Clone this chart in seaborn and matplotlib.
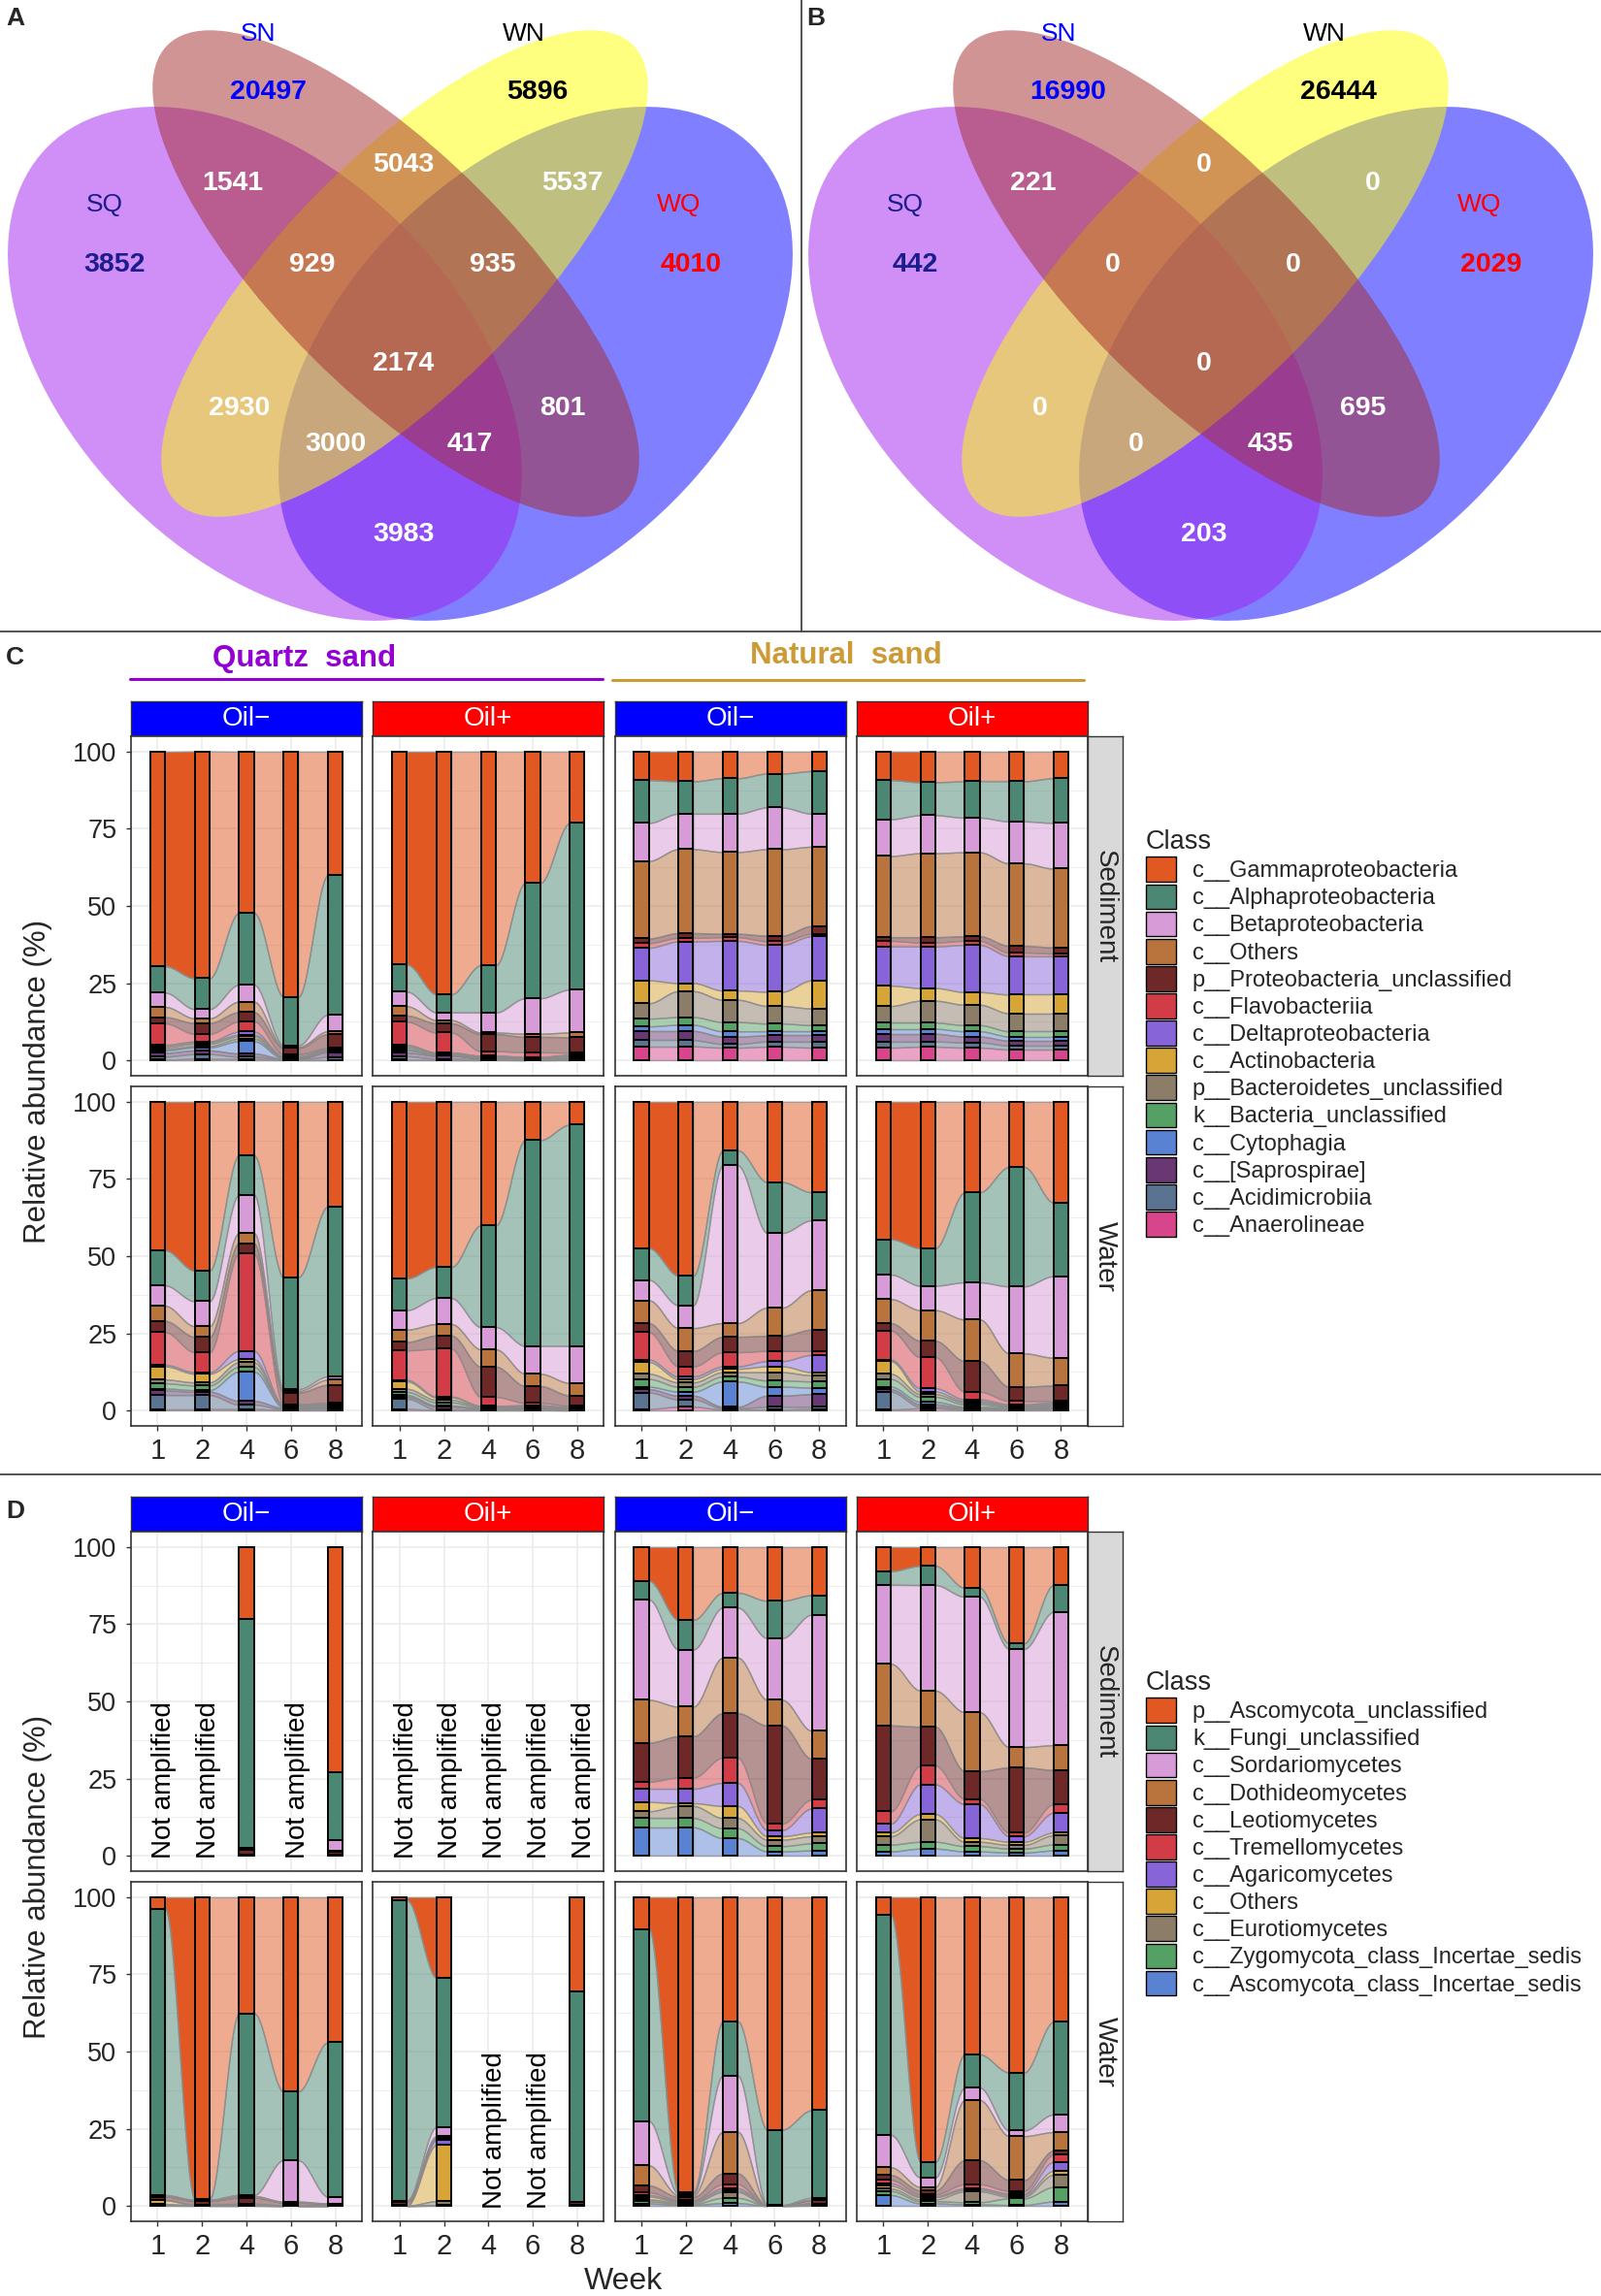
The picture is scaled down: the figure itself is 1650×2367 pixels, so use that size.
import numpy as np
import matplotlib
matplotlib.use("Agg")
import matplotlib.pyplot as plt
from matplotlib.patches import Ellipse, Patch
from matplotlib.lines import Line2D
from matplotlib.colors import to_rgba
import seaborn as sns

sns.set_theme(style="white")
plt.rcParams['font.family'] = ['Liberation Sans', 'DejaVu Sans']

W, H = 1650, 2367

# ---------------- Venn data ----------------
venn_regions = ["SQ", "SN", "WN", "WQ", "SQ&SN", "SN&WN", "WN&WQ", "SQ&SN&WN",
                "SN&WN&WQ", "SQ&SN&WN&WQ", "SQ&WN", "SN&WQ", "SQ&WN&WQ", "SQ&SN&WQ", "SQ&WQ"]
venn_A = [3852, 20497, 5896, 4010, 1541, 5043, 5537, 929, 935, 2174, 2930, 801, 3000, 417, 3983]
venn_B = [442, 16990, 26444, 2029, 221, 0, 0, 0, 0, 0, 0, 695, 0, 435, 203]
set_names = ["SQ", "SN", "WN", "WQ"]
set_fill = {"SQ": "#A020F0", "SN": "#A52A2A", "WN": "#FFFF00", "WQ": "#0000FF"}
set_textcol = {"SQ": "#1C1C8C", "SN": "#0000FF", "WN": "#000000", "WQ": "#FF0000"}

# ---------------- Panel C data (bacteria) ----------------
weeks = ["1", "2", "4", "6", "8"]
bac_classes = ["c__Gammaproteobacteria", "c__Alphaproteobacteria", "c__Betaproteobacteria",
               "c__Others", "p__Proteobacteria_unclassified", "c__Flavobacteriia",
               "c__Deltaproteobacteria", "c__Actinobacteria", "p__Bacteroidetes_unclassified",
               "k__Bacteria_unclassified", "c__Cytophagia", "c__[Saprospirae]",
               "c__Acidimicrobiia", "c__Anaerolineae"]
bac_colors = ["#E15823", "#4B8773", "#D79BD7", "#B9733C", "#6E2828", "#D23C46", "#8764D7",
              "#D7A537", "#8C7D69", "#55A064", "#5A82D2", "#693773", "#5A7391", "#D7468C"]

bac_quartz_oilneg_sediment = [
    [69.5, 8.6, 4.6, 3.3, 2.0, 7.0, 0.3, 0.5, 0.6, 0.4, 0.8, 1.2, 1.0, 0.2],
    [73.5, 10.0, 3.0, 1.5, 3.5, 2.5, 0.3, 0.4, 0.8, 0.4, 1.0, 1.2, 1.5, 0.5],
    [52.2, 23.3, 5.5, 3.4, 3.0, 3.3, 1.0, 0.5, 0.8, 0.8, 4.0, 1.0, 0.7, 0.5],
    [79.4, 15.8, 0.5, 0.3, 2.0, 0.7, 0.1, 0.1, 0.3, 0.2, 0.1, 0.2, 0.2, 0.1],
    [40.0, 45.2, 5.4, 0.9, 4.5, 0.3, 0.1, 0.3, 0.3, 0.2, 0.2, 1.5, 1.0, 0.1]]
bac_quartz_oilpos_sediment = [
    [69.0, 8.8, 4.7, 3.0, 2.0, 7.5, 0.3, 0.5, 0.6, 0.4, 0.7, 1.2, 1.1, 0.2],
    [78.6, 5.9, 2.5, 1.0, 3.0, 6.5, 0.1, 0.2, 0.3, 0.2, 0.2, 1.0, 0.4, 0.1],
    [69.2, 15.3, 6.5, 0.5, 5.5, 1.5, 0.1, 0.2, 0.3, 0.2, 0.1, 0.4, 0.1, 0.1],
    [42.5, 37.4, 11.5, 1.0, 5.0, 1.5, 0.1, 0.2, 0.2, 0.2, 0.1, 0.2, 0.05, 0.05],
    [23.1, 54.0, 13.9, 1.5, 5.0, 0.7, 0.1, 0.3, 0.4, 0.3, 0.1, 0.4, 0.1, 0.1]]
bac_natural_oilneg_sediment = [
    [9.2, 13.9, 12.3, 25.1, 1.5, 1.5, 10.6, 7.4, 5.0, 2.5, 1.5, 3.0, 2.0, 4.5],
    [9.6, 10.5, 11.5, 27.2, 1.5, 1.2, 13.5, 2.6, 8.4, 2.5, 2.0, 3.0, 2.0, 4.5],
    [8.6, 11.5, 12.4, 26.5, 1.1, 1.2, 16.1, 3.0, 7.2, 3.0, 1.7, 2.4, 1.2, 4.1],
    [7.1, 11.0, 13.5, 28.0, 1.8, 1.2, 15.2, 4.6, 5.7, 2.5, 1.3, 2.0, 1.7, 4.4],
    [6.3, 13.8, 10.7, 25.7, 2.5, 0.8, 14.3, 9.1, 5.4, 2.0, 1.3, 2.0, 2.0, 4.1]]
bac_natural_oilpos_sediment = [
    [9.2, 12.7, 11.9, 26.3, 1.2, 1.8, 12.7, 6.6, 5.4, 2.0, 1.6, 2.5, 2.0, 4.1],
    [9.9, 10.7, 12.3, 27.2, 1.7, 1.3, 13.5, 4.1, 7.1, 2.0, 1.6, 2.5, 1.7, 4.4],
    [9.6, 11.8, 11.2, 27.2, 1.5, 1.3, 15.3, 4.1, 6.6, 2.0, 1.7, 1.9, 1.7, 4.1],
    [9.6, 13.0, 13.6, 26.7, 2.2, 1.1, 12.5, 6.1, 5.8, 1.7, 1.3, 1.6, 1.3, 3.5],
    [8.6, 14.5, 14.8, 25.5, 2.0, 0.8, 12.5, 6.1, 5.8, 1.7, 1.3, 1.6, 1.3, 3.5]]
bac_quartz_oilneg_water = [
    [48.1, 11.4, 6.6, 4.9, 3.6, 10.6, 0.5, 4.3, 1.2, 1.7, 0.6, 1.5, 4.5, 0.5],
    [54.7, 9.9, 8.1, 3.4, 5.0, 6.5, 0.5, 2.8, 1.0, 1.5, 0.5, 1.1, 4.5, 0.5],
    [17.3, 12.8, 12.4, 3.3, 3.3, 31.6, 2.7, 1.0, 1.5, 1.5, 9.5, 1.2, 1.4, 0.5],
    [56.8, 36.3, 0.6, 0.5, 3.8, 0.3, 0.1, 0.1, 0.3, 0.2, 0.2, 0.4, 0.3, 0.1],
    [33.9, 55.1, 1.0, 1.7, 5.8, 0.4, 0.1, 0.2, 0.3, 0.3, 0.2, 0.5, 0.4, 0.1]]
bac_quartz_oilpos_water = [
    [57.2, 10.3, 6.3, 4.0, 2.7, 9.6, 0.5, 2.4, 1.0, 1.0, 0.5, 0.7, 3.3, 0.5],
    [53.5, 10.1, 8.4, 3.7, 4.3, 15.5, 0.3, 0.8, 0.8, 1.0, 0.3, 1.0, 0.2, 0.1],
    [40.0, 33.0, 7.2, 5.6, 9.8, 2.9, 0.1, 0.2, 0.3, 0.3, 0.1, 0.3, 0.1, 0.1],
    [12.4, 66.7, 9.0, 4.0, 5.4, 0.8, 0.1, 0.2, 0.3, 0.2, 0.1, 0.5, 0.2, 0.1],
    [7.4, 71.7, 12.0, 4.0, 3.4, 0.5, 0.1, 0.1, 0.2, 0.2, 0.1, 0.2, 0.05, 0.05]]
bac_natural_oilneg_water = [
    [47.4, 10.3, 6.6, 7.4, 2.9, 8.9, 0.8, 3.8, 1.7, 2.5, 0.8, 1.1, 5.3, 0.5],
    [56.3, 9.6, 7.4, 7.4, 5.0, 3.3, 0.8, 1.1, 1.4, 1.6, 1.3, 1.2, 2.4, 1.2],
    [15.7, 4.9, 51.1, 4.4, 5.0, 4.6, 0.8, 1.1, 1.4, 1.6, 8.2, 0.5, 0.4, 0.3],
    [26.0, 16.5, 24.2, 9.1, 4.9, 3.3, 1.7, 1.9, 2.7, 2.0, 2.9, 3.6, 0.9, 0.3],
    [29.3, 9.1, 22.6, 12.8, 6.9, 1.3, 5.6, 1.0, 2.0, 2.0, 2.1, 4.1, 0.7, 0.5]]
bac_natural_oilpos_water = [
    [44.5, 11.5, 7.9, 7.8, 2.4, 9.4, 0.5, 4.1, 1.7, 2.5, 0.8, 0.8, 5.8, 0.3],
    [47.4, 12.2, 7.9, 9.9, 5.3, 10.1, 1.1, 0.8, 0.9, 1.6, 0.8, 0.8, 0.5, 0.7],
    [29.3, 29.2, 12.0, 13.5, 9.9, 2.5, 0.6, 0.4, 0.6, 0.8, 0.4, 0.3, 0.3, 0.2],
    [21.1, 38.7, 21.7, 10.8, 4.6, 1.1, 0.3, 0.2, 0.3, 0.3, 0.3, 0.3, 0.2, 0.1],
    [32.6, 23.9, 26.4, 9.0, 5.0, 0.5, 0.3, 0.3, 0.3, 0.3, 0.3, 0.5, 0.4, 0.2]]

# ---------------- Panel D data (fungi) ; None = not amplified ----------------
fun_classes = ["p__Ascomycota_unclassified", "k__Fungi_unclassified", "c__Sordariomycetes",
               "c__Dothideomycetes", "c__Leotiomycetes", "c__Tremellomycetes",
               "c__Agaricomycetes", "c__Others", "c__Eurotiomycetes",
               "c__Zygomycota_class_Incertae_sedis", "c__Ascomycota_class_Incertae_sedis"]
fun_colors = bac_colors[:11]

fun_quartz_oilneg_sediment = [
    None, None,
    [23.3, 74.1, 0.3, 0.5, 1.5, 0.1, 0.0, 0.1, 0.1, 0.0, 0.0],
    None,
    [73.1, 21.9, 3.5, 0.2, 1.1, 0.0, 0.0, 0.1, 0.1, 0.0, 0.0]]
fun_quartz_oilpos_sediment = [None, None, None, None, None]
fun_natural_oilneg_sediment = [
    [10.9, 6.1, 32.5, 13.9, 12.6, 2.3, 4.3, 3.0, 2.2, 3.0, 9.2],
    [23.6, 9.6, 18.5, 9.6, 13.4, 3.6, 4.7, 0.9, 3.9, 3.0, 9.2],
    [14.8, 4.8, 16.2, 18.0, 14.4, 8.2, 7.5, 3.9, 3.3, 3.2, 5.7],
    [17.4, 12.1, 20.0, 8.3, 31.8, 2.1, 2.0, 1.1, 2.1, 1.7, 1.4],
    [15.6, 6.3, 37.6, 9.1, 13.2, 2.9, 7.8, 1.2, 2.3, 2.3, 1.7]]
fun_natural_oilpos_sediment = [
    [7.8, 4.4, 25.6, 20.0, 27.8, 4.0, 2.9, 1.2, 2.7, 2.2, 1.4],
    [6.1, 6.2, 34.2, 11.7, 12.6, 6.1, 9.6, 1.7, 7.3, 2.2, 2.3],
    [13.2, 2.9, 37.4, 19.1, 9.0, 1.7, 11.0, 1.2, 1.4, 1.7, 1.4],
    [31.2, 1.8, 31.8, 6.6, 21.1, 1.2, 1.8, 1.0, 1.2, 1.3, 1.0],
    [12.3, 8.7, 43.2, 8.0, 11.1, 2.8, 6.4, 0.9, 3.0, 1.9, 1.7]]
fun_quartz_oilneg_water = [
    [3.7, 92.8, 0.2, 0.3, 1.0, 0.1, 0.1, 1.2, 0.4, 0.1, 0.1],
    [97.7, 0.3, 0.2, 0.2, 1.2, 0.1, 0.0, 0.1, 0.1, 0.05, 0.05],
    [37.6, 58.9, 0.3, 0.5, 2.0, 0.1, 0.1, 0.2, 0.2, 0.05, 0.05],
    [62.9, 22.3, 13.4, 0.3, 0.9, 0.05, 0.05, 0.05, 0.05, 0.0, 0.0],
    [47.0, 50.0, 2.2, 0.1, 0.5, 0.05, 0.05, 0.05, 0.05, 0.0, 0.0]]
fun_quartz_oilpos_water = [
    [1.0, 97.3, 0.1, 0.2, 1.2, 0.05, 0.05, 0.05, 0.05, 0.0, 0.0],
    [26.1, 48.3, 3.0, 0.5, 0.5, 0.3, 1.5, 18.3, 1.2, 0.2, 0.1],
    None, None,
    [30.5, 68.1, 0.1, 0.1, 1.0, 0.05, 0.05, 0.05, 0.05, 0.0, 0.0]]
fun_natural_oilneg_water = [
    [10.3, 62.2, 14.4, 6.5, 2.2, 0.9, 0.5, 0.9, 0.6, 0.7, 0.8],
    [95.6, 0.5, 0.5, 0.5, 1.0, 0.3, 0.3, 0.3, 0.4, 0.3, 0.3],
    [40.2, 17.6, 18.2, 13.5, 3.5, 1.3, 0.7, 0.5, 1.9, 1.7, 0.9],
    [75.3, 24.4, 0.05, 0.05, 0.05, 0.03, 0.03, 0.03, 0.03, 0.02, 0.01],
    [69.0, 28.4, 0.6, 0.2, 1.0, 0.2, 0.1, 0.1, 0.2, 0.1, 0.1]]
fun_natural_oilpos_water = [
    [5.6, 71.4, 10.5, 2.5, 1.6, 1.1, 0.8, 0.9, 0.8, 1.3, 3.5],
    [85.7, 5.1, 3.1, 1.1, 1.2, 0.6, 0.4, 0.7, 0.6, 0.7, 0.8],
    [50.9, 10.8, 4.0, 19.5, 7.8, 1.3, 0.5, 0.5, 3.5, 0.7, 0.5],
    [56.8, 18.8, 1.8, 14.2, 3.5, 0.9, 0.5, 0.5, 0.6, 2.1, 0.3],
    [40.4, 30.0, 5.7, 6.0, 1.3, 2.3, 3.0, 1.2, 4.0, 4.7, 1.4]]

treatments = ["Oil\u2212", "Oil+", "Oil\u2212", "Oil+"]
strip_cols = ["#0000FF", "#FF0000", "#0000FF", "#FF0000"]
habitats = ["Sediment", "Water"]

# ---------------- helpers ----------------
fig = plt.figure(figsize=(W / 100, H / 100), dpi=100)


def box(x0, y0, x1, y1):
    return [x0 / W, 1 - y1 / H, (x1 - x0) / W, (y1 - y0) / H]


def fx(x):
    return x / W


def fy(y):
    return 1 - y / H


# ---------------- Venn diagrams ----------------
ellipses = {"WQ": ((552, 375), 633, 401, -45), "SQ": ((273, 375), 633, 401, 45),
            "WN": ((417, 282), 666, 244, -45), "SN": ((408, 282), 666, 244, 45)}
region_pos = {"SQ": (118, 273), "SN": (276, 95), "WN": (554, 95), "WQ": (712, 273),
              "SQ&SN": (240, 189), "SN&WN": (416, 170), "WN&WQ": (590, 189),
              "SQ&SN&WN": (322, 273), "SN&WN&WQ": (508, 273), "SQ&SN&WN&WQ": (416, 375),
              "SQ&WN": (247, 421), "SN&WQ": (580, 421), "SQ&WN&WQ": (346, 458),
              "SQ&SN&WQ": (484, 458), "SQ&WQ": (416, 551)}
name_pos = {"SQ": (108, 211), "SN": (266, 35), "WN": (540, 35), "WQ": (700, 211)}


def draw_venn(x_off, counts, letter):
    ax = fig.add_axes(box(x_off, 0, x_off + 825, 651))
    ax.set_xlim(0, 825)
    ax.set_ylim(651, 0)
    ax.axis("off")
    for z, s in enumerate(["WQ", "SQ", "WN", "SN"]):
        c, w, h, ang = ellipses[s]
        ax.add_patch(Ellipse(c, w, h, angle=ang, facecolor=to_rgba(set_fill[s], 0.5),
                             edgecolor="none", zorder=z + 1))
    for s in set_names:
        ax.text(*name_pos[s], s, color=set_textcol[s], fontsize=19, ha="center", va="center", zorder=10)
    for r, n in zip(venn_regions, counts):
        col = set_textcol[r] if r in set_textcol else "white"
        ax.text(*region_pos[r], str(n), color=col, fontsize=20.5, fontweight="bold",
                ha="center", va="center", zorder=10)
    fig.text(fx(x_off + 16), fy(19), letter, fontsize=19, fontweight="bold", ha="center", va="center")


draw_venn(0, venn_A, "A")
draw_venn(825, venn_B, "B")

# separators
fig.add_artist(Line2D([0, 1], [fy(651), fy(651)], color="#444444", lw=1.3))
fig.add_artist(Line2D([fx(826), fx(826)], [fy(0), fy(651)], color="#444444", lw=1.3))
fig.add_artist(Line2D([0, 1], [fy(1520), fy(1520)], color="#444444", lw=1.3))

# ---------------- alluvial facets ----------------
BAR_W = 1 / 3
col_x = [(135, 373), (384.3, 622.3), (633.6, 871.6), (882.9, 1120.9)]


def smooth(t):
    return t * t * (3 - 2 * t)


def draw_facet(ax, data, colors):
    stacks = []
    for vals in data:
        if vals is None:
            stacks.append(None)
            continue
        v = np.asarray(vals, float)
        bottoms = np.concatenate([np.cumsum(v[::-1])[::-1][1:], [0.0]])
        stacks.append((v, bottoms))
    for j in range(len(weeks) - 1):
        a, b = stacks[j], stacks[j + 1]
        if a is None or b is None:
            continue
        x = np.linspace(j + BAR_W / 2, j + 1 - BAR_W / 2, 80)
        s = smooth((x - x[0]) / (x[-1] - x[0]))
        for k in range(len(colors)):
            lo = a[1][k] + (b[1][k] - a[1][k]) * s
            hi = lo + a[0][k] + (b[0][k] - a[0][k]) * s
            alpha = 1.0 if (j == 0 and k == 0) else 0.5
            ax.fill_between(x, lo, hi, facecolor=to_rgba(colors[k], alpha),
                            edgecolor=(0.55, 0.55, 0.55, 0.75), linewidth=1.0, zorder=2)
    cols = np.array(colors)
    for j, st in enumerate(stacks):
        if st is None:
            ax.text(j + 0.15, -1.0, "Not amplified", rotation=90, ha="center", va="bottom",
                    fontsize=20, color="black", zorder=5)
            continue
        v, bot = st
        keep = v > 0
        ax.bar(np.full(keep.sum(), j), v[keep], bottom=bot[keep], width=BAR_W,
               color=cols[keep], edgecolor="black", linewidth=1.4, zorder=3)


def style_axes(ax, show_y, show_x):
    ax.set_xlim(-0.6, 4.6)
    ax.set_ylim(-5, 105)
    ax.set_xticks(range(len(weeks)))
    ax.set_xticklabels(weeks)
    ax.set_yticks([0, 25, 50, 75, 100])
    ax.set_yticks([12.5, 37.5, 62.5, 87.5], minor=True)
    ax.grid(which="major", color="#EBEBEB", lw=1.1)
    ax.grid(which="minor", axis="y", color="#EBEBEB", lw=0.6)
    ax.set_axisbelow(True)
    ax.set_facecolor("white")
    for sp in ax.spines.values():
        sp.set_color("#333333")
        sp.set_linewidth(1.2)
    ax.tick_params(which="minor", length=0)
    ax.tick_params(axis="y", which="major", length=3.6 if show_y else 0, width=1, color="#333333",
                   labelsize=19.5, pad=7, labelleft=show_y, left=show_y)
    ax.tick_params(axis="x", which="major", length=3.6 if show_x else 0, width=1, color="#333333",
                   labelsize=21, pad=5, labelbottom=show_x, bottom=show_x)


def draw_block(y0, facets, colors, classes, legend_top, with_week):
    strip_top, strip_bot = y0, y0 + 36
    rows = [(strip_bot, strip_bot + 350), (strip_bot + 361, strip_bot + 711)]
    for c, (x0, x1) in enumerate(col_x):
        sax = fig.add_axes(box(x0, strip_top, x1, strip_bot))
        sax.set_facecolor(strip_cols[c])
        sax.set_xticks([]); sax.set_yticks([])
        for sp in sax.spines.values():
            sp.set_color("#333333"); sp.set_linewidth(1.0)
        sax.text(0.5, 0.5, treatments[c], color="white", fontsize=20, ha="center", va="center",
                 transform=sax.transAxes)
    for r, (ya, yb) in enumerate(rows):
        for c, (x0, x1) in enumerate(col_x):
            ax = fig.add_axes(box(x0, ya, x1, yb))
            draw_facet(ax, facets[r][c], colors)
            style_axes(ax, show_y=(c == 0), show_x=(r == 1))
        rax = fig.add_axes(box(1120.9, ya, 1157, yb))
        rax.set_facecolor("#D9D9D9" if r == 0 else "white")
        rax.set_xticks([]); rax.set_yticks([])
        for sp in rax.spines.values():
            sp.set_color("#333333"); sp.set_linewidth(1.0)
        rax.text(0.5, 0.5, habitats[r], rotation=270, fontsize=20, ha="center", va="center",
                 transform=rax.transAxes)
    fig.text(fx(39), fy((rows[0][0] + rows[1][1]) / 2), "Relative abundance (%)", rotation=90,
             fontsize=22.5, ha="center", va="center")
    if with_week:
        fig.text(fx(642), fy(2352), "Week", fontsize=23, ha="center", va="center")
    handles = [Patch(facecolor=col, edgecolor="black", linewidth=1.0) for col in colors]
    fig.legend(handles, classes, loc="upper left", bbox_to_anchor=(fx(1181), fy(legend_top)),
               frameon=False, fontsize=17, title="Class", title_fontsize=19.5, alignment="left",
               handlelength=1.33, handleheight=1.3, labelspacing=0.1, handletextpad=0.7,
               borderpad=0, borderaxespad=0)


facets_C = [[bac_quartz_oilneg_sediment, bac_quartz_oilpos_sediment,
             bac_natural_oilneg_sediment, bac_natural_oilpos_sediment],
            [bac_quartz_oilneg_water, bac_quartz_oilpos_water,
             bac_natural_oilneg_water, bac_natural_oilpos_water]]
facets_D = [[fun_quartz_oilneg_sediment, fun_quartz_oilpos_sediment,
             fun_natural_oilneg_sediment, fun_natural_oilpos_sediment],
            [fun_quartz_oilneg_water, fun_quartz_oilpos_water,
             fun_natural_oilneg_water, fun_natural_oilpos_water]]

draw_block(723, facets_C, bac_colors, bac_classes, 855, False)
draw_block(1543, facets_D, fun_colors, fun_classes, 1722, True)

# group headers for panel C
fig.text(fx(314), fy(679), "Quartz  sand", color="#9400D3", fontsize=22.5, fontweight="bold",
         ha="center", va="center")
fig.add_artist(Line2D([fx(133.5), fx(620.7)], [fy(700), fy(700)], color="#9400D3", lw=2.2))
fig.text(fx(872), fy(676), "Natural  sand", color="#CD9B35", fontsize=22.5, fontweight="bold",
         ha="center", va="center")
fig.add_artist(Line2D([fx(630.6), fx(1117.4)], [fy(701), fy(701)], color="#CD9B35", lw=2.2))

fig.text(fx(15.5), fy(678), "C", fontsize=19, fontweight="bold", ha="center", va="center")
fig.text(fx(15.5), fy(1558), "D", fontsize=19, fontweight="bold", ha="center", va="center")

fig.savefig("out.png", dpi=100, facecolor="white")
